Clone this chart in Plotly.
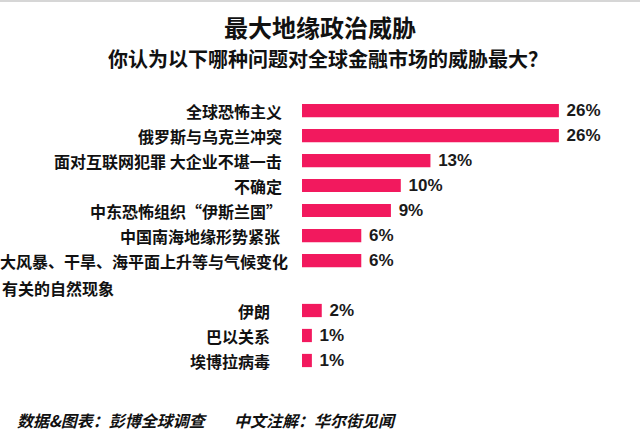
import plotly.graph_objects as go

# ---- data ----
categories = [
    "全球恐怖主义",
    "俄罗斯与乌克兰冲突",
    "面对互联网犯罪 大企业不堪一击",
    "不确定",
    "中东恐怖组织“伊斯兰国”",
    "中国南海地缘形势紧张",
    "大风暴、干旱、海平面上升等与气候变化",
    "伊朗",
    "巴以关系",
    "埃博拉病毒",
]
values = [26, 26, 13, 10, 9, 6, 6, 2, 1, 1]
label_line2 = "有关的自然现象"
title = "最大地缘政治威胁"
subtitle = "你认为以下哪种问题对全球金融市场的威胁最大？"
source_left = "数据&图表：彭博全球调查"
source_right = "中文注解：华尔街见闻"

# ---- layout helpers ----
W, H = 640, 434
ML, MR, MT, MB = 302, 0, 98, 61
PW, PH = W - ML - MR, H - MT - MB
GAP = "__gap__"
cat_order = categories[:7] + [GAP] + categories[7:]

def px(p):
    return (p - ML) / PW

def py(p):
    return (H - MB - p) / PH

CJK = "Noto Sans CJK SC"
BAR = "#F2195E"

fig = go.Figure()
fig.add_trace(go.Bar(
    x=values, y=categories, orientation="h",
    marker=dict(color=BAR, line=dict(width=0)),
    width=0.53,
    texttemplate=" %{x}%", textposition="outside",
    textfont=dict(family="Liberation Sans, Arial, sans-serif", size=17, color="#1a1a1a", weight="bold"),
    constraintext="none", cliponaxis=False,
    hoverinfo="skip",
))

annotations = []
label_shift = [-18, -18, -18, -18, -18, -20, -12, -30, -30, -30]
for cat, sh in zip(categories, label_shift):
    annotations.append(dict(
        text=cat, x=0, xref="paper", y=cat, yref="y",
        xanchor="right", yanchor="middle", xshift=sh, showarrow=False,
        font=dict(family=CJK, size=16, color="#111", weight="bold"),
    ))
annotations.append(dict(
    text=label_line2, x=px(0), xref="paper", y=GAP, yref="y",
    xanchor="left", yanchor="middle", yshift=-2, showarrow=False,
    font=dict(family=CJK, size=16, color="#111", weight="bold"),
))
annotations.append(dict(
    text=title, x=px(320), xref="paper", y=py(26), yref="paper",
    xanchor="center", yanchor="middle", showarrow=False,
    font=dict(family=CJK, size=24, color="#111", weight="bold"),
))
annotations.append(dict(
    text=subtitle, x=px(328), xref="paper", y=py(59), yref="paper",
    xanchor="center", yanchor="middle", showarrow=False,
    font=dict(family=CJK, size=20, color="#111", weight="bold"),
))
for txt, xp in [(source_left, 15), (source_right, 232)]:
    annotations.append(dict(
        text=txt, x=px(xp), xref="paper", y=py(420), yref="paper",
        xanchor="left", yanchor="middle", showarrow=False,
        font=dict(family=CJK, size=16, color="#111", weight="bold", style="italic"),
    ))

fig.update_layout(
    width=W, height=H,
    margin=dict(l=ML, r=MR, t=MT, b=MB, pad=0),
    paper_bgcolor="white", plot_bgcolor="white",
    showlegend=False,
    xaxis=dict(range=[0, PW / 9.88], visible=False, fixedrange=True),
    yaxis=dict(type="category", categoryorder="array", categoryarray=cat_order,
               range=[len(cat_order) - 0.5, -0.5], visible=False, fixedrange=True),
    annotations=annotations,
    shapes=[dict(type="rect", xref="paper", yref="paper",
                 x0=px(0), x1=px(W), y0=py(2), y1=py(0),
                 fillcolor="#d6d6d6", line=dict(width=0))],
)

fig.write_html("out.html", config={"displayModeBar": False})
